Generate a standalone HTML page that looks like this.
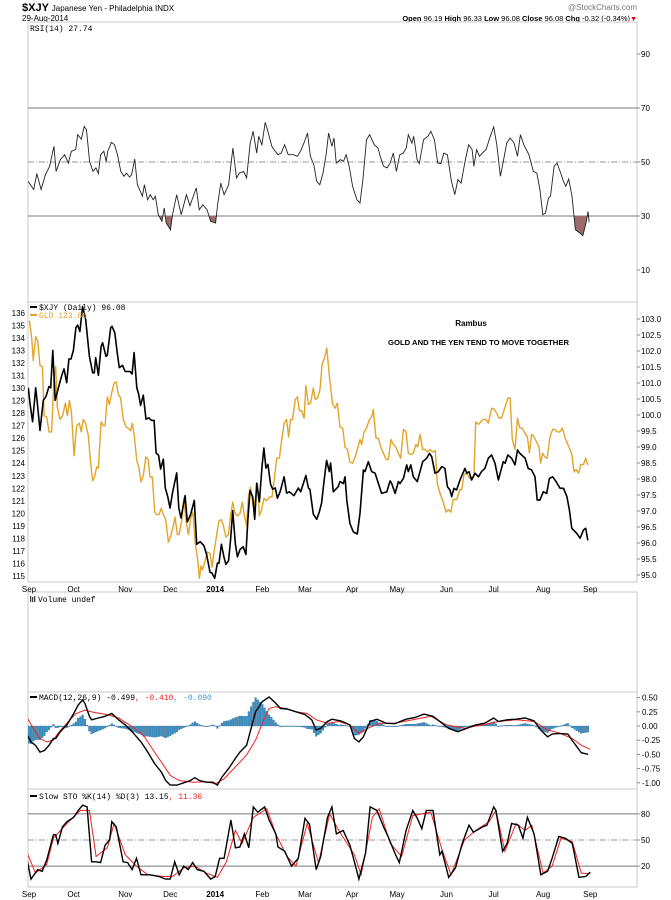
<!DOCTYPE html>
<html><head><meta charset="utf-8"><style>
body{margin:0;background:#fff}
svg{display:block;font-family:"Liberation Sans",sans-serif}
</style></head><body>
<svg id="c" width="671" height="900" viewBox="0 0 671 900" xmlns="http://www.w3.org/2000/svg">
<rect x="0" y="0" width="671" height="900" fill="#fff"/>
<g>
<text x="22" y="11" font-size="11" font-weight="bold">$XJY <tspan font-size="8" font-weight="normal">Japanese Yen - Philadelphia  INDX</tspan></text>
<text x="22" y="21" font-size="8">29-Aug-2014</text>
<text x="637" y="10" font-size="8" fill="#777" text-anchor="end">@StockCharts.com</text>
<text x="630" y="21" font-size="7.5" text-anchor="end"><tspan font-weight="bold">Open</tspan> 96.19 <tspan font-weight="bold">High</tspan> 96.33 <tspan font-weight="bold">Low</tspan> 96.08 <tspan font-weight="bold">Close</tspan> 96.08 <tspan font-weight="bold">Chg</tspan> -0.32 (-0.34%)</text>
<text x="637" y="21" font-size="7" fill="#d00" text-anchor="end">▼</text>
</g>
<g id="layers"></g>
</svg>
<script>
// ---------- data ----------
const monthLabels=["Sep","Oct","Nov","Dec","2014","Feb","Mar","Apr","May","Jun","Jul","Aug","Sep"];
const monthDays=[3,23,46,66,86,107,126,147,167,189,210,232,253];
const gldTicks=[115,116,117,118,119,120,121,122,123,124,125,126,127,128,129,130,131,132,133,134,135,136];
const xjyTicks=[95.0,95.5,96.0,96.5,97.0,97.5,98.0,98.5,99.0,99.5,100.0,100.5,101.0,101.5,102.0,102.5,103.0];
const rsiTicks=[10,30,50,70,90];
const macdTicks=[0.5,0.25,0,-0.25,-0.5,-0.75,-1.0];
const stoTicks=[20,50,80];

const xjyDays=[2.8,3.6,4.7,6.1,7.0,8.0,9.5,10.7,12.0,12.8,13.7,14.8,16.2,17.7,18.7,19.9,20.9,21.8,22.9,24.0,24.8,25.8,27.0,28.3,30.0,31.5,32.2,32.8,34.0,35.2,35.9,37.4,38.0,39.5,40.1,41.3,42.4,43.3,44.8,45.9,48.1,49.0,49.9,51.1,51.9,52.8,54.0,55.2,56.4,57.7,58.8,59.7,60.8,61.7,62.9,63.8,64.9,65.9,67.1,68.9,69.8,70.8,72.6,73.6,75.1,76.7,77.8,79.3,81.0,82.2,83.7,84.6,85.8,87.0,87.7,88.8,89.9,90.8,92.0,92.9,93.8,95.0,95.9,97.1,98.5,99.7,100.6,101.5,102.7,103.6,104.5,105.7,106.9,107.7,108.6,109.5,110.7,111.6,112.8,113.7,114.9,116.7,117.8,119.0,121.1,123.0,124.1,126.4,127.5,128.2,129.7,131.2,132.4,133.4,134.5,135.6,136.8,137.4,138.6,140.8,
141.6,143.1,143.8,144.6,146.0,147.5,149.3,150.5,152.0,152.7,154.2,155.7,157.2,158.7,160.1,162.4,163.9,164.6,166.1,167.6,168.3,169.8,171.3,172.0,173.1,174.2,176.0,177.2,178.4,180.2,181.4,182.4,183.9,185.4,186.9,188.3,189.4,190.5,191.3,192.3,193.5,195.0,197.2,198.0,199.0,200.2,201.7,203.2,204.6,206.1,207.6,209.1,210.6,212.1,213.1,214.3,215.1,216.3,218.0,219.5,220.6,221.7,224.0,225.4,226.9,228.4,229.4,230.6,232.1,233.6,234.8,236.3,237.8,239.6,241.1,242.6,243.7,244.8,247.0,248.5,250.0,251.0,251.9];
const xjyVals=[100.85,100.34,99.79,100.85,100.26,99.52,100.46,100.58,100.89,100.85,102.02,100.46,100.85,101.24,101.44,101.01,101.75,101.75,102.02,102.73,102.81,102.61,103.39,103.0,101.83,101.32,101.32,101.79,101.24,102.14,102.26,101.83,101.87,102.73,102.77,102.57,101.95,101.48,101.55,101.36,101.36,101.28,101.95,100.85,100.66,100.30,100.62,99.87,99.91,99.83,99.83,98.81,98.74,98.31,98.62,97.72,97.44,97.09,97.60,98.19,97.09,96.78,97.48,96.66,96.90,97.33,95.96,96.04,95.92,95.64,95.09,95.06,94.90,95.37,95.37,95.96,95.57,95.33,95.45,96.15,97.01,95.96,95.57,95.80,95.88,95.64,96.74,97.64,97.44,96.74,97.87,97.29,98.42,98.97,98.34,98.46,97.83,97.68,97.72,97.40,97.60,98.07,97.56,97.60,97.48,97.72,97.60,98.11,97.72,97.68,96.90,96.74,96.98,97.25,97.95,98.58,98.23,98.50,97.60,97.76,
97.92,97.86,98.07,97.34,96.61,96.35,96.28,96.93,98.28,98.23,98.54,98.23,98.18,97.86,97.55,97.60,97.94,97.86,97.55,97.92,97.86,98.02,98.44,98.23,98.44,98.07,97.92,98.23,98.54,98.65,98.80,98.70,98.18,98.23,98.39,98.33,97.76,97.66,97.45,97.71,97.66,97.97,98.33,98.18,98.23,97.97,98.18,98.07,98.23,98.33,98.65,98.75,98.49,97.97,98.23,98.54,98.49,98.75,98.65,98.44,98.91,98.80,98.65,98.33,98.28,98.07,97.34,97.34,97.60,97.55,98.02,98.07,97.92,97.71,97.71,97.45,97.03,96.46,96.30,96.15,96.41,96.46,96.08];

const gldDays=[3.3,4.3,5.0,6.1,7.0,8.0,9.1,9.9,11.0,12.0,13.2,14.2,15.0,15.7,16.9,18.1,19.3,20.2,21.1,22.0,23.2,24.3,25.5,26.4,27.3,28.3,29.5,30.6,31.5,32.5,33.2,34.0,35.2,36.2,37.0,38.0,38.9,39.9,41.0,41.9,42.9,43.9,45.1,46.3,47.3,48.4,49.1,49.9,51.1,52.1,53.0,54.0,55.1,56.2,57.0,58.0,59.1,59.9,61.0,62.0,62.9,64.0,65.2,66.2,67.1,68.1,69.2,69.9,71.1,72.1,73.0,74.1,75.1,76.1,77.2,78.2,79.0,79.7,80.4,81.5,82.5,83.7,84.6,85.5,86.7,87.7,88.7,89.6,90.8,91.9,92.9,93.8,94.8,95.9,97.1,98.1,99.0,100.0,100.9,101.8,103.0,103.9,104.8,105.7,106.7,107.7,108.9,110.1,111.3,112.2,113.4,114.6,115.6,116.7,117.8,118.7,119.6,120.5,121.7,122.6,123.5,124.5,125.6,126.4,127.5,128.5,129.7,130.6,131.6,132.7,133.6,134.5,135.7,136.8,
138.3,139.4,140.4,141.6,142.8,143.8,144.9,146.0,147.2,148.3,149.3,150.5,151.2,152.3,153.4,154.7,155.7,156.4,157.6,158.7,159.7,160.9,162.1,163.1,164.3,165.3,166.4,167.6,168.6,169.8,171.0,172.0,173.2,174.2,175.4,176.2,177.2,178.4,179.4,180.5,181.7,182.8,184.0,184.9,186.1,187.6,188.8,189.8,190.9,192.0,193.5,195.0,195.8,196.8,198.0,199.2,200.4,201.2,202.0,203.2,204.2,205.4,206.6,207.6,209.1,210.3,211.3,212.5,213.5,215.1,216.3,217.3,218.3,219.5,220.6,221.7,222.8,223.9,225.0,225.9,226.9,228.0,229.1,230.2,230.9,231.8,232.8,233.8,235.1,236.3,237.3,238.3,239.5,240.6,241.8,242.8,244.0,244.8,245.8,246.7,247.8,248.8,250.0,251.0,251.9];
const gldVals=[135.4,134,132.2,134.1,133.8,131.8,131.7,127.8,127.7,126.5,126.5,130.6,131.7,128.5,127.5,127.8,128.8,127.8,129,128.1,124.6,127,127.2,126.5,127.5,127.2,126.2,124,122.6,123,123.7,123.6,127.3,127,127,129.3,128.7,129.6,130.4,130.5,129.5,129.2,127.5,126.9,126.8,126.6,127.2,126.3,124.2,123.6,122.5,123,124.5,124.3,122.9,122.9,120.1,119.9,119.9,120.4,119.9,119.5,117.7,118.2,118.8,119.7,118.3,118.3,119.4,121.2,119.4,118.3,119.6,120.1,117.5,116.4,114.8,115.8,115.5,116.2,116.9,116.8,115.7,116.9,118.3,119.4,119.5,119.1,118.1,118.3,119.9,120.9,120,119.8,120,120.9,119.8,119,121.5,122.1,120.5,121.2,122.4,119.8,120.3,121.2,121,121.3,121.3,122.5,124.4,124.4,125.8,127.2,127.5,126.1,127.5,127.5,129.1,129.3,128.2,128.2,127.6,130.2,128.7,128.8,130,129.1,129.2,129.9,131.9,132.3,133.2,131,
128.7,128.4,128.8,126.9,126.8,125.3,125.1,124.1,124.0,124.5,125.1,125.9,125.5,126.5,126.8,127.5,127.7,128.3,126.0,126.0,125.3,124.8,124.3,124.3,125.9,125.5,125.3,124.8,124.4,126.7,126.5,124.8,124.7,124.8,125.5,125.3,126.3,125.1,125.1,124.9,125.1,124.9,125.0,122.4,121.6,120.9,120.1,120.3,120.1,121.1,121.1,121.9,121.9,123.1,123.2,122.8,122.9,122.9,127.3,127.1,127.3,127.5,127.5,127.2,128.4,128.3,128.0,127.6,127.6,128.5,129.2,129.2,125.9,125.1,127.6,126.8,126.8,126.4,126.1,124.8,126.3,126.1,125.7,125.3,124.0,124.8,124.5,124.4,126.1,126.7,126.7,126.5,126.5,126.8,126.0,125.6,125.1,124.7,123.3,123.5,123.2,123.9,123.9,124.4,123.86];

const rsiDays=[2.7,5.2,6.6,8.5,10.4,12.3,14.2,15.2,17.1,19.0,20.6,22.0,23.9,24.8,26.4,27.7,28.7,30.1,31.6,32.9,34.0,35.0,36.4,37.5,38.2,39.8,41.2,42.5,44.0,45.4,46.5,47.9,48.8,50.2,51.4,52.7,53.6,54.5,55.9,57.1,58.4,59.4,60.7,62.3,63.3,64.2,66.1,67.0,68.9,70.9,73.2,74.8,76.0,77.6,78.9,80.5,82.4,84.0,86.2,87.1,88.5,90.0,92.0,93.9,95.5,96.8,98.7,100.0,101.6,102.9,104.5,105.4,106.8,108.3,109.7,111.2,112.2,114.0,115.4,116.9,118.5,120.8,122.6,124.0,125.5,127.1,128.4,129.9,131.2,132.6,134.1,135.5,136.5,138.0,138.9,139.9,141.8,143.1,144.3,145.7,147.2,149.1,150.5,151.8,153.4,154.8,156.8,158.5,159.5,161.0,162.6,163.9,165.3,166.7,168.2,169.7,171.1,172.0,173.6,174.4,175.9,176.9,178.8,180.7,182.0,183.6,185.1,186.5,187.8,189.4,191.2,192.7,194.1,195.5,197.4,198.9,200.4,201.2,202.4,203.7,205.0,206.6,208.5,210.0,211.4,213.0,214.3,215.8,217.3,219.1,220.6,221.9,223.4,225.7,227.7,229.2,230.6,231.9,233.1,234.4,235.3,236.9,238.2,239.6,241.1,242.1,243.4,244.9,246.4,248.4,249.7,251.1,252.0,252.5];
const rsiVals=[42.8,39.8,45.7,39.8,45.3,48.4,55.8,46.5,50.9,52.7,49.6,54.0,54.6,60.1,58.5,63.2,61.9,50.2,46.5,47.8,45.7,52.7,54.0,50.2,54.0,57.3,56.4,52.7,46.5,44.7,45.9,44.4,45.3,51.1,41.6,39.1,37.3,41.6,36.0,37.9,36.0,37.3,30.5,28.0,33.0,27.4,24.9,30.5,37.9,30.5,37.9,33.8,36.7,40.4,32.3,34.2,32.3,28.0,27.4,34.2,42.2,37.9,41.6,55.2,44.1,45.9,46.5,44.1,57.0,61.4,53.3,59.5,56.4,64.7,60.7,55.8,54.6,52.7,53.3,56.4,52.7,52.7,52.1,54.0,57.0,60.7,52.1,49.0,42.8,41.6,46.2,53.3,60.7,55.8,58.9,49.6,50.9,50.2,52.7,48.4,41.0,36.0,34.8,43.5,58.3,60.1,56.4,55.2,52.1,48.4,47.8,49.6,53.3,46.5,52.7,53.3,55.2,60.1,57.0,59.5,50.9,49.4,58.3,59.5,61.4,58.3,49.6,49.4,53.3,52.7,42.8,37.9,43.5,42.2,50.9,56.4,54.6,48.4,54.6,52.1,53.3,54.6,59.5,63.0,56.4,44.7,50.2,57.0,58.9,57.0,52.1,60.1,56.4,52.7,46.5,45.9,39.8,30.5,31.1,36.7,37.3,48.4,49.6,46.5,42.8,41.0,43.7,37.3,24.9,23.7,22.7,27.4,31.7,27.7];

const macdDays=[2,4,6,8,10,12,14,15,17,20,23,25,27,28,30,31,34,37,40,43,46,49,53,56,59,62,64,66,69,72,75,77,79,82,85,87,89,92,95,97,100,102,104,107,110,113,115,118,122,126,129,131,133,136,138,142,146,148,150,152,155,158,162,166,171,175,179,183,187,190,194,198,202,206,210,212,216,220,224,228,231,234,236,239,243,246,249,252];
const macdVals=[-0.13,-0.28,-0.34,-0.46,-0.43,-0.34,-0.22,-0.22,-0.10,0.02,0.22,0.37,0.46,0.40,0.17,0.11,0.14,0.17,0.22,0.11,0.02,-0.10,-0.28,-0.46,-0.66,-0.81,-0.96,-1.04,-1.04,-1.0,-0.96,-0.91,-0.96,-0.99,-0.99,-1.04,-0.90,-0.75,-0.57,-0.46,-0.34,-0.04,0.25,0.43,0.51,0.40,0.31,0.30,0.25,0.20,0.11,-0.07,-0.04,0.08,0.12,0.09,0.02,-0.22,-0.28,-0.19,0.08,0.12,0.05,0.04,0.12,0.15,0.21,0.17,0.05,-0.04,-0.10,-0.04,0.02,0.05,0.14,0.08,0.11,0.12,0.14,0.09,-0.07,-0.19,-0.14,-0.13,-0.14,-0.31,-0.47,-0.499];
const signalDays=[2,5,8,11,14,16,20,24,28,32,38,43,49,54,59,63,66,70,76,82,86,90,95,100,104,107,110,113,117,122,127,131,136,141,146,150,154,159,166,174,182,189,197,205,212,220,228,234,239,245,249,253];
const signalVals=[0.17,-0.04,-0.22,-0.28,-0.25,-0.13,0.05,0.22,0.28,0.24,0.20,0.14,-0.01,-0.16,-0.46,-0.69,-0.87,-0.96,-0.99,-0.98,-1.02,-0.93,-0.72,-0.51,-0.25,0.05,0.31,0.34,0.31,0.25,0.22,0.11,0.05,0.08,0.02,-0.13,-0.04,0.05,0.05,0.11,0.17,0.02,-0.04,0.02,0.08,0.11,0.08,-0.07,-0.12,-0.22,-0.34,-0.41];

const stoKDays=[2,4,7,9,11,14,15,16,18,20,23,25,27,29,31,33,35,37,39,40,42,45,47,49,51,53,57,61,64,66,68,70,72,74,76,78,81,84,86,88,90,93,95,97,99,101,103,105,108,110,113,114,117,120,123,126,128,131,133,136,138,140,143,146,148,150,153,155,158,161,163,166,168,171,174,176,178,180,183,186,187,190,193,196,199,201,205,207,210,211,214,216,218,221,223,225,228,231,234,236,239,242,245,248,251,253];
const stoKVals=[31,5,16,14,27,56,56,46,65,71,76,84,90,88,25,25,24,44,50,71,65,25,24,16,29,10,10,8,5,5,25,10,20,16,24,16,14,5,8,29,29,73,41,42,57,41,88,82,88,73,57,42,37,20,29,75,68,16,31,76,88,57,61,44,25,5,35,88,84,65,54,35,24,61,84,75,63,84,84,33,37,7,18,46,67,59,65,67,88,84,37,46,69,67,52,76,57,10,14,29,54,52,46,7,8,13.15];
const stoDDays=[2,6,11,14,20,26,30,33,38,41,46,51,56,63,67,72,77,82,87,91,95,98,103,109,113,118,122,127,132,137,141,148,151,156,159,164,169,174,182,187,191,197,202,208,211,215,220,224,227,232,236,240,245,249,253];
const stoDVals=[37,12,22,52,69,84,84,31,41,69,33,20,10,8,8,18,20,12,7,25,61,46,76,86,57,31,20,69,24,80,61,33,10,76,86,46,31,78,82,39,10,50,61,71,84,37,69,61,67,12,20,52,48,12,11.36];

// ---------- scales ----------
const NS="http://www.w3.org/2000/svg";
const layers=document.getElementById('layers');
const X0=22, KX=2.246, PL=28, PR=637;
const xs=d=>X0+d*KX;
const yGld=v=>313+(136-v)*12.52;
const yXjy=v=>319+(103-v)*32;
const yRsi=v=>162-(v-50)*2.7;
const yMacd=v=>726-v*56.8;
const ySto=v=>840-(v-50)*0.87;
function mk(tag,attrs,parent){const e=document.createElementNS(NS,tag);for(const k in attrs)e.setAttribute(k,attrs[k]);(parent||layers).appendChild(e);return e;}
function pathD(days,vals,yf){let s='';const n=Math.min(days.length,vals.length);for(let i=0;i<n;i++){s+=(i?'L':'M')+xs(days[i]).toFixed(1)+','+yf(vals[i]).toFixed(1);}return s;}
function interp(days,vals,d){const n=Math.min(days.length,vals.length);if(d<=days[0])return vals[0];for(let i=1;i<n;i++){if(d<=days[i]){const t=(d-days[i-1])/(days[i]-days[i-1]);return vals[i-1]+t*(vals[i]-vals[i-1]);}}return vals[n-1];}

// clip paths
const defs=mk('defs',{});
const panels=[['rsi',22,302],['price',302,582],['vol',592,692],['macd',692,789],['sto',789,887]];
panels.forEach(p=>{const c=mk('clipPath',{id:'clip-'+p[0]},defs);mk('rect',{x:PL,y:p[1],width:PR-PL,height:p[2]-p[1]},c);});

// panel frames
panels.forEach(p=>{
  const r=mk('rect',{x:PL,y:p[1],width:PR-PL,height:p[2]-p[1],fill:'none',stroke:'#c8c8c8','stroke-width':1});
  
  
});

// ---------- RSI ----------
const gR=mk('g',{'clip-path':'url(#clip-rsi)'});


[70,30].forEach(v=>{const l=mk('line',{x1:PL,x2:PR,y1:yRsi(v),y2:yRsi(v),stroke:'#777','stroke-width':1},gR);

});
const l50=mk('line',{x1:PL,x2:PR,y1:yRsi(50),y2:yRsi(50),stroke:'#999','stroke-width':1,'stroke-dasharray':'6,2,1,2'},gR);


const fc=mk('clipPath',{id:'rsi-below'},defs);mk('rect',{x:PL,y:yRsi(30),width:PR-PL,height:100},fc);
const rsiLine=pathD(rsiDays,rsiVals,yRsi);
const fillD=rsiLine+'L'+xs(rsiDays[rsiDays.length-1]).toFixed(1)+','+yRsi(30)+'L'+xs(rsiDays[0]).toFixed(1)+','+yRsi(30)+'Z';
const rf=mk('path',{d:fillD,fill:'#9c6c6c','clip-path':'url(#rsi-below)'},gR);


const rl=mk('path',{d:rsiLine,fill:'none',stroke:'#222','stroke-width':0.9},gR);


rsiTicks.forEach(v=>{const t=mk('text',{x:641,y:yRsi(v)+3,'font-size':8});t.textContent=v;


mk('line',{x1:PR,x2:PR+3,y1:yRsi(v),y2:yRsi(v),stroke:'#888'});});
const rt=mk('text',{x:30,y:31,'font-size':8,'font-family':'Liberation Mono, monospace'});rt.textContent='RSI(14) 27.74';



// ---------- price ----------
const gP=mk('g',{'clip-path':'url(#clip-price)'});


const gl=mk('path',{d:pathD(gldDays,gldVals,yGld),fill:'none',stroke:'#e2a52a','stroke-width':1.4,'stroke-linejoin':'round'},gP);


const xl=mk('path',{d:pathD(xjyDays,xjyVals,yXjy),fill:'none',stroke:'#000','stroke-width':1.6,'stroke-linejoin':'round'},gP);


gldTicks.forEach(v=>{const t=mk('text',{x:25,y:yGld(v)+3,'font-size':8,'text-anchor':'end'});t.textContent=v;

});
xjyTicks.forEach(v=>{const t=mk('text',{x:641,y:yXjy(v)+3,'font-size':8});t.textContent=v.toFixed(1);


mk('line',{x1:PR,x2:PR+3,y1:yXjy(v),y2:yXjy(v),stroke:'#888'});});
mk('line',{x1:30,x2:37,y1:307,y2:307,stroke:'#000','stroke-width':2});
const lg1=mk('text',{x:39,y:310,'font-size':8,'font-family':'Liberation Mono, monospace'});lg1.textContent='$XJY (Daily) 96.08';


mk('line',{x1:30,x2:37,y1:315,y2:315,stroke:'#e2a52a','stroke-width':2});
const lg2=mk('text',{x:39,y:318,'font-size':8,fill:'#e2a52a','font-family':'Liberation Mono, monospace'});lg2.textContent='GLD 123.86';


const a1=mk('text',{x:471,y:326,'font-size':8,'font-weight':'bold','text-anchor':'middle'});a1.textContent='Rambus';


const a2=mk('text',{x:388,y:345,'font-size':7.5,'font-weight':'bold',textLength:181,lengthAdjust:'spacingAndGlyphs'});a2.textContent='GOLD AND THE YEN TEND TO MOVE TOGETHER';



// date axes
function dateAxis(y,nm){monthLabels.forEach((m,i)=>{const t=mk('text',{x:i===0?29:xs(monthDays[i]),y:y,'font-size':8,'text-anchor':'middle','font-weight':m==='2014'?'bold':'normal'});t.textContent=m;

});}
dateAxis(592,'date-label');
dateAxis(897,'bottom-date-label');

// ---------- volume ----------
const vt=mk('text',{x:38,y:602,'font-size':8,'font-family':'Liberation Mono, monospace'});vt.textContent='Volume undef';


[30,32,34].forEach((x,i)=>mk('rect',{x:x,y:596+i%2,width:1.3,height:6-i%2,fill:'#444'}));

// ---------- MACD ----------
const gM=mk('g',{'clip-path':'url(#clip-macd)'});


for(let d=2;d<=252;d++){const h=interp(macdDays,macdVals,d)-interp(signalDays,signalVals,d);
const y1=yMacd(0),y2=yMacd(h);
const b=mk('rect',{x:xs(d)-0.9,y:Math.min(y1,y2),width:1.8,height:Math.max(0.6,Math.abs(y2-y1)),fill:'#3d8fc2',stroke:'#2a6a96','stroke-width':0.3},gM);

}
const ms=mk('path',{d:pathD(signalDays,signalVals,yMacd),fill:'none',stroke:'#e22','stroke-width':1},gM);


const ml=mk('path',{d:pathD(macdDays,macdVals,yMacd),fill:'none',stroke:'#000','stroke-width':1.4},gM);


macdTicks.forEach(v=>{const t=mk('text',{x:642,y:yMacd(v)+3,'font-size':8});t.textContent=v.toFixed(2);


mk('line',{x1:PR,x2:PR+3,y1:yMacd(v),y2:yMacd(v),stroke:'#888'});});
mk('line',{x1:30,x2:37,y1:697,y2:697,stroke:'#000','stroke-width':2});
const mlg=mk('text',{x:39,y:700,'font-size':8,'font-family':'Liberation Mono, monospace'});
mlg.innerHTML='MACD(12,26,9) -0.499<tspan fill="#e22">, -0.410</tspan><tspan fill="#3d9ad0">, -0.090</tspan>';



// ---------- STO ----------
const gS=mk('g',{'clip-path':'url(#clip-sto)'});


[80,20].forEach(v=>{const l=mk('line',{x1:PL,x2:PR,y1:ySto(v),y2:ySto(v),stroke:'#777'},gS);

});
const s50=mk('line',{x1:PL,x2:PR,y1:ySto(50),y2:ySto(50),stroke:'#999','stroke-dasharray':'6,2,1,2'},gS);


const sd=mk('path',{d:pathD(stoDDays,stoDVals,ySto),fill:'none',stroke:'#e22','stroke-width':1},gS);


const sk=mk('path',{d:pathD(stoKDays,stoKVals,ySto),fill:'none',stroke:'#000','stroke-width':1.4},gS);


stoTicks.forEach(v=>{const t=mk('text',{x:641,y:ySto(v)+3,'font-size':8});t.textContent=v;


mk('line',{x1:PR,x2:PR+3,y1:ySto(v),y2:ySto(v),stroke:'#888'});});
mk('line',{x1:30,x2:37,y1:796,y2:796,stroke:'#000','stroke-width':2});
const slg=mk('text',{x:39,y:799,'font-size':8,'font-family':'Liberation Mono, monospace'});
slg.innerHTML='Slow STO %K(14) %D(3) 13.15<tspan fill="#e22">, 11.36</tspan>';


</script>
</body></html>
